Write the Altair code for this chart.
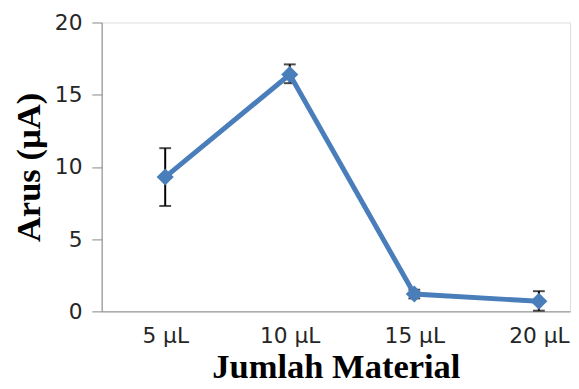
import altair as alt
import pandas as pd

categories = ["5 µL", "10 µL", "15 µL", "20 µL"]
arus = [9.3, 16.4, 1.2, 0.7]
err_low = [7.3, 15.8, 0.9, 0.05]
err_high = [11.3, 17.1, 1.5, 1.4]

df = pd.DataFrame({
    "idx": list(range(1, len(categories) + 1)),
    "cat": categories,
    "arus": arus,
    "lo": err_low,
    "hi": err_high,
})

label_list = "[" + ",".join("'" + c + "'" for c in categories) + "]"

x_enc = alt.X(
    "idx:Q",
    scale=alt.Scale(domain=[0.49, 4.25], nice=False, zero=False),
    axis=alt.Axis(
        values=[1, 2, 3, 4],
        labelExpr=label_list + "[datum.value - 1]",
        ticks=False,
        grid=False,
        domainColor="#868686",
        labelFont="DejaVu Sans",
        labelFontSize=22,
        labelColor="#262626",
        labelPadding=15,
        title="Jumlah Material",
        titleFont="Liberation Serif",
        titleFontWeight="bold",
        titleFontSize=35,
        titleColor="#000000",
        titlePadding=3,
    ),
)

y_enc = alt.Y(
    "arus:Q",
    scale=alt.Scale(domain=[0, 20], nice=False),
    axis=alt.Axis(
        values=[0, 5, 10, 15, 20],
        grid=False,
        tickSize=10,
        tickColor="#868686",
        domainColor="#868686",
        labelFont="DejaVu Sans",
        labelFontSize=22,
        labelColor="#262626",
        labelPadding=10,
        title="Arus (µA)",
        titleFont="Liberation Serif",
        titleFontWeight="bold",
        titleFontSize=35,
        titleColor="#000000",
        titlePadding=8,
    ),
)

base = alt.Chart(df)

err = base.mark_rule(color="#000000", strokeWidth=2).encode(
    x=x_enc, y=alt.Y("lo:Q"), y2="hi:Q"
)
cap_lo = base.mark_tick(color="#000000", thickness=2, size=12, orient="horizontal").encode(
    x=x_enc, y=alt.Y("lo:Q")
)
cap_hi = base.mark_tick(color="#000000", thickness=2, size=12, orient="horizontal").encode(
    x=x_enc, y=alt.Y("hi:Q")
)
line = base.mark_line(color="#4A7EBB", strokeWidth=5).encode(x=x_enc, y=y_enc)
pts = base.mark_point(shape="diamond", filled=True, size=300, color="#4A7EBB", opacity=1).encode(
    x=x_enc, y=y_enc
)

chart = alt.layer(err, cap_lo, cap_hi, line, pts).properties(
    width=475,
    height=293,
    autosize=alt.AutoSizeParams(type="none"),
    padding={"left": 95, "top": 12, "right": 1, "bottom": 76},
).configure_view(stroke=None).configure(background="#ffffff")

chart.save("out.html", embed_options={"renderer": "svg", "actions": False})
